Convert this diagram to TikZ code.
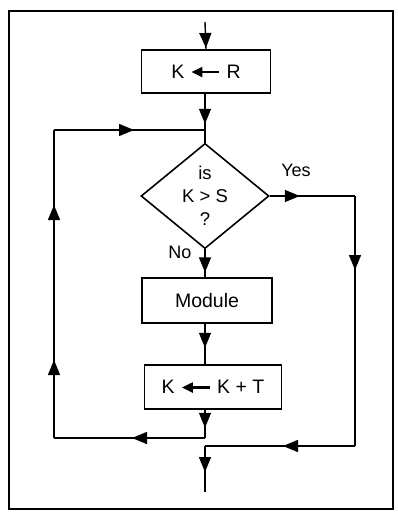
\documentclass[tikz,border=0pt]{standalone}
\usepackage{fontspec}
\setmainfont{Liberation Sans}
\usetikzlibrary{arrows.meta,shapes.geometric,decorations.markings}
\newcommand{\lar}{\tikz[baseline=-0.6ex,x=1pt,y=1pt]\draw[line width=2.4pt,{Triangle[length=11pt,width=10pt]}-](0pt,0pt)--(28pt,0pt);}
\tikzset{
  line/.style={line width=1.4pt},
  tip/.tip={Triangle[length=15pt,width=12pt]},
  arrat/.style={postaction={decorate},decoration={markings,mark=at position #1 with {\arrow{tip}}}},
  arrtwo/.style 2 args={postaction={decorate},decoration={markings,mark=at position #1 with {\arrow{tip}},mark=at position #2 with {\arrow{tip}}}},
  procbox/.style={draw,line width=1.6pt,rectangle,inner sep=0pt,font=\fontsize{19.5}{23}\selectfont},
  decbox/.style={draw,line width=1.6pt,diamond,inner sep=0pt,minimum width=128pt,minimum height=82pt,align=center,font=\fontsize{18.5}{24}\selectfont},
  lab/.style={font=\fontsize{18}{20}\selectfont,inner sep=0pt}
}
\begin{document}
\begin{tikzpicture}[x=1pt,y=-1pt]
\useasboundingbox (0,0) rectangle (398,514);
\draw[line width=1.5pt] (9,11) rectangle (393,509);
% nodes
\coordinate (start) at (205,22);
\node[procbox,minimum width=129pt,minimum height=43pt] (b1) at (206,71.5) {K\hspace{6pt}\lar\hspace{6pt}R};
\coordinate (j1) at (205,130);
\node[decbox] (d) at (205,196) {is\\[-1pt]K > S\\[-1pt]?};
\node[procbox,minimum width=130pt,minimum height=45pt] (mod) at (207,300.5) {Module};
\node[procbox,minimum width=137pt,minimum height=44pt] (kt) at (213,387) {K\hspace{6pt}\lar\hspace{6pt}K + T};
\coordinate (j3) at (205,438);
\coordinate (l1) at (54,438);
\coordinate (l2) at (54,130);
\coordinate (r1) at (355,196);
\coordinate (r2) at (355,446);
\coordinate (j2) at (205,446);
\coordinate (stop) at (205,492);
\node[lab] (yes) at (296,170) {Yes};
\node[lab] (no) at (180,252) {No};
% connectors
\draw[line,arrat=26pt] (start) -- (b1.north);
\draw[line,arrat=30pt] (b1.south -| j1) -- (j1);
\draw[line,arrat=23pt] (j1) -- (d.north);
\draw[line,arrat=23pt] (d.south) -- (mod.north -| d.south);
\draw[line,arrat=24pt] (mod.south -| d.south) -- (kt.north -| d.south);
\draw[line,arrat=18pt] (kt.south -| d.south) -- (j3);
\draw[line,arrat=73pt] (j3) -- (l1);
\draw[line,arrtwo={78pt}{233pt}] (l1) -- (l2);
\draw[line,arrat=80pt] (l2) -- (j1);
\draw[line,arrat=30pt] (d.east) -- (r1);
\draw[line,arrat=74pt] (r1) -- (r2);
\draw[line,arrat=72pt] (r2) -- (j2);
\draw[line,arrat=26pt] (j2) -- (stop);
\end{tikzpicture}
\end{document}
